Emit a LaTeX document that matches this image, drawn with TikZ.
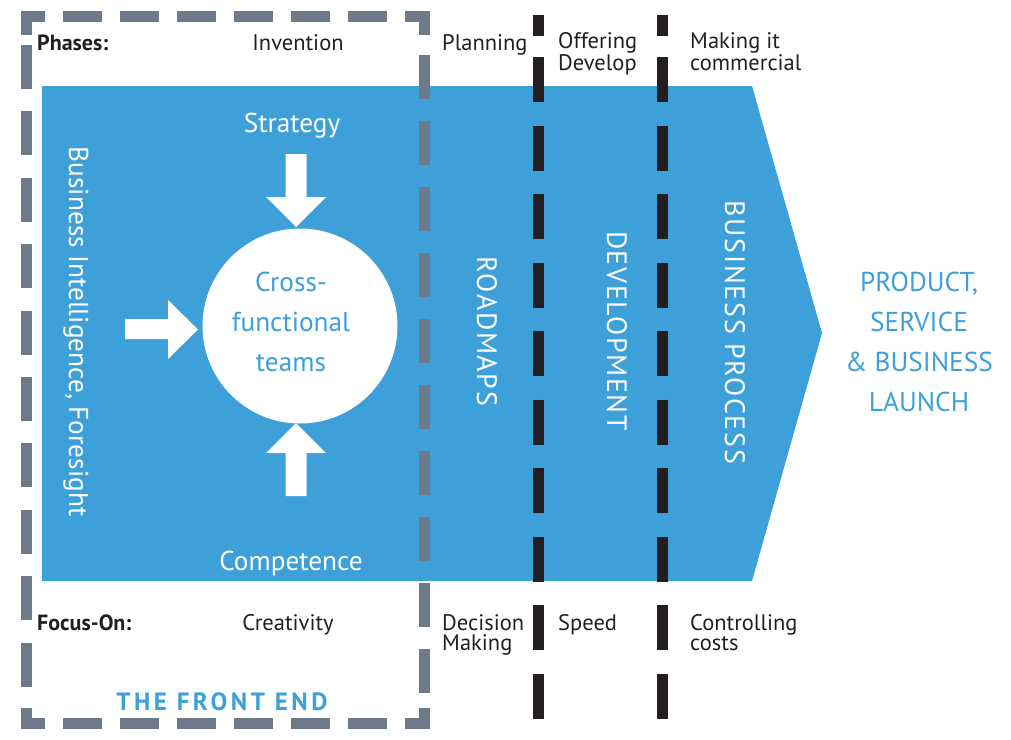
\documentclass[tikz,border=0pt]{standalone}
\usepackage{fontspec}
\setmainfont{PT Sans}
\definecolor{myblue}{RGB}{61,160,216}
\definecolor{mygray}{RGB}{108,122,137}
\definecolor{myblack}{RGB}{35,31,32}
\tikzset{
  lbl/.style={font=\fontsize{22.5}{20}\selectfont, text=myblack, inner sep=0pt, align=left},
  lblb/.style={font=\fontsize{22}{20}\selectfont\bfseries, text=myblack, inner sep=0pt},
  bigw/.style={font=\fontsize{27.3}{40}\selectfont, text=white, inner sep=0pt, align=center},
  bigb/.style={font=\fontsize{27.3}{40}\selectfont, text=myblue, inner sep=0pt, align=center},
  capsw/.style={font=\fontsize{28}{40}\selectfont\addfontfeature{LetterSpace=6}, text=white, inner sep=0pt},
  graydash/.style={draw=mygray, line width=11pt, line cap=butt},
  graycorner/.style={draw=mygray, line width=11pt, line cap=butt, line join=miter},
  blackdash/.style={draw=myblack, line width=11pt, line cap=butt},
  blockarrow/.style={fill=white, draw=none}
}
\begin{document}
\begin{tikzpicture}[x=1pt,y=-1pt]
\useasboundingbox (0,0) rectangle (1011,739);
% main blue chevron
\fill[myblue] (42,86) -- (752,86) -- (822,333) -- (752,581) -- (42,581) -- cycle;
% circle
\node[circle, fill=white, minimum size=195pt, inner sep=0pt] (team) at (300,326) {};
% block arrows
\fill[blockarrow] (285.5,154) -- (306.5,154) -- (306.5,197) -- (326,197) -- (296,227) -- (266,197) -- (285.5,197) -- cycle;
\fill[blockarrow] (285.5,496) -- (306.5,496) -- (306.5,453) -- (326,453) -- (296,423) -- (266,453) -- (285.5,453) -- cycle;
\fill[blockarrow] (125,319) -- (168,319) -- (168,300) -- (198,329.5) -- (168,359) -- (168,339) -- (125,339) -- cycle;
% white texts
\node[bigw, anchor=base] (strategy) at (292,132) {Strategy};
\node[bigw, anchor=base] (competence) at (291,570) {Competence};
\node[bigb] (cross) at (291,322) {Cross-\\functional\\teams};
\node[bigw, rotate=-90] (bi) at (76,331.5) {Business Intelligence, Foresight};
\node[capsw, rotate=-90] (roadmaps) at (487,331.5) {ROADMAPS};
\node[capsw, rotate=-90] (development) at (617,331) {DEVELOPMENT};
\node[capsw, rotate=-90] (bprocess) at (735,332.5) {BUSINESS PROCESS};
\node[bigb] (launch) at (919,342) {PRODUCT,\\SERVICE\\\& BUSINESS\\LAUNCH};
% gray dashed front-end box
\draw[graycorner] (45,16) -- (26,16) -- (26,35);
\draw[graycorner] (405,16) -- (424,16) -- (424,35);
\draw[graycorner] (45,723) -- (26,723) -- (26,708);
\draw[graycorner] (405,723) -- (424,723) -- (424,708);
\draw[graydash, dash pattern=on 39pt off 18pt, dash phase=39pt] (45,16) -- (405,16);
\draw[graydash, dash pattern=on 39pt off 18pt, dash phase=39pt] (45,723) -- (405,723);
\draw[graydash, dash pattern=on 44pt off 22.4pt, dash phase=56.4pt] (26,35) -- (26,708);
\draw[graydash, dash pattern=on 44pt off 22pt, dash phase=46pt] (424,35) -- (424,708);
% black dashed lines
\draw[blackdash] (538.5,15) -- (538.5,36);
\draw[blackdash, dash pattern=on 45pt off 23.5pt] (538.5,57) -- (538.5,739);
\draw[blackdash] (662.5,15) -- (662.5,36);
\draw[blackdash, dash pattern=on 45pt off 23.5pt] (662.5,57) -- (662.5,739);
% top labels
\node[lblb, anchor=base west] (phases) at (37,50) {Phases:};
\node[lbl, anchor=base] (invention) at (298,50) {Invention};
\node[lbl, anchor=base west] (planning) at (442,50) {Planning};
\node[lbl, anchor=base west] (offering) at (558,70) {Offering\\Develop};
\node[lbl, anchor=base west] (making) at (690,70) {Making it\\commercial};
% bottom labels
\node[lblb, anchor=base west] (focus) at (37,630) {Focus-On:};
\node[lbl, anchor=base] (creativity) at (288,630) {Creativity};
\node[lbl, anchor=base west] (decision) at (442,650) {Decision\\Making};
\node[lbl, anchor=base west] (speed) at (558,630) {Speed};
\node[lbl, anchor=base west] (controlling) at (690,650) {Controlling\\costs};
\node[inner sep=0pt, text=myblue, anchor=base, font=\fontsize{25}{30}\selectfont\bfseries\addfontfeature{LetterSpace=14}] (frontend) at (222,710) {THE FRONT END};
\end{tikzpicture}
\end{document}
